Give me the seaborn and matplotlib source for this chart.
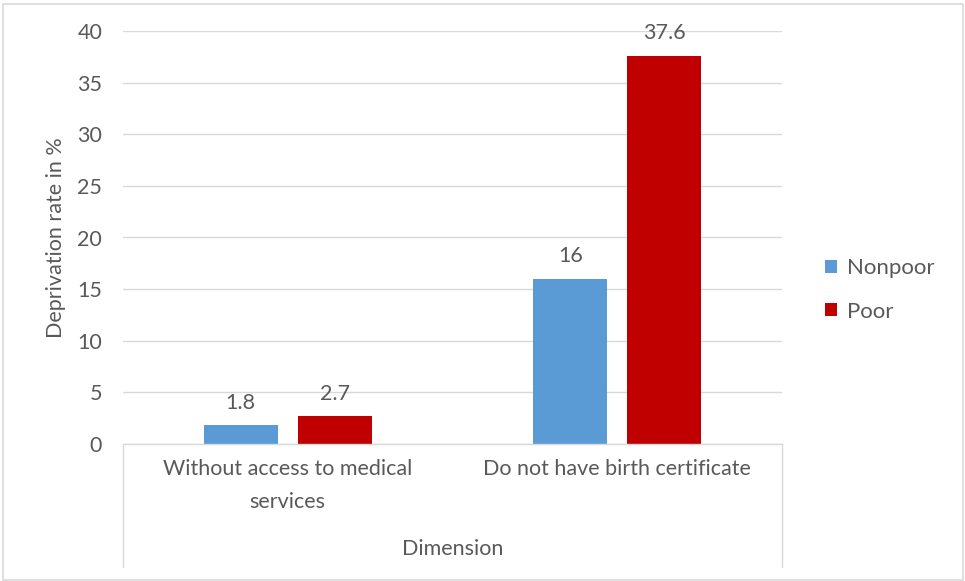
import matplotlib
matplotlib.use("Agg")
import matplotlib.pyplot as plt
from matplotlib.lines import Line2D
from matplotlib.patches import Rectangle, Patch
import pandas as pd
import seaborn as sns

# Data
categories = ["Without access to medical services", "Do not have birth certificate"]
tick_labels = ["Without access to medical\nservices", "Do not have birth certificate"]
groups = ["Nonpoor", "Poor"]
nonpoor = [1.8, 16]
poor = [2.7, 37.6]
y_ticks = [0, 5, 10, 15, 20, 25, 30, 35, 40]
colors = ["#5b9bd5", "#c00000"]

df = pd.DataFrame({
    "Dimension": categories * 2,
    "Group": [groups[0]] * len(categories) + [groups[1]] * len(categories),
    "Rate": nonpoor + poor,
})

sns.set_style("white")
plt.rcParams["font.family"] = ["Lato", "DejaVu Sans"]
text_color = "#595959"
grid_color = "#d9d9d9"
fs = 15.5

fig = plt.figure(figsize=(9.65, 5.81), dpi=100)
W, H = 965, 581
left, right, top, bottom = 123, 782, 31, 444
ax = fig.add_axes([left / W, 1 - bottom / H, (right - left) / W, (bottom - top) / H])

sns.barplot(data=df, x="Dimension", y="Rate", hue="Group", order=categories,
            hue_order=groups, palette=colors, saturation=1, width=0.57, gap=0.21,
            errorbar=None, linewidth=0, ax=ax)

ax.set_ylim(0, 40)
ax.set_xlim(-0.5, 1.5)
ax.set_yticks(y_ticks)
ax.set_yticklabels([str(t) for t in y_ticks], fontsize=fs, color=text_color)
ax.set_xticks(range(len(categories)))
ax.set_xticklabels(tick_labels, fontsize=fs, color=text_color, linespacing=1.8,
                   va="top")
ax.tick_params(axis="y", length=0, pad=15)
ax.tick_params(axis="x", length=0, pad=11)
ax.set_axisbelow(True)
ax.yaxis.grid(True, color=grid_color, lw=1)
for side in ["top", "right", "left"]:
    ax.spines[side].set_visible(False)
ax.spines["bottom"].set_color(grid_color)
ax.spines["bottom"].set_linewidth(1)

ax.set_xlabel("")
ax.set_ylabel("Deprivation rate in %", fontsize=fs, color=text_color, labelpad=8)

for cont in ax.containers:
    ax.bar_label(cont, labels=[f"{v:g}" for v in cont.datavalues],
                 padding=9, fontsize=fs, color=text_color)

if ax.get_legend() is not None:
    ax.get_legend().remove()

handles = [Patch(facecolor=c, edgecolor="none") for c in colors]
fig.legend(handles, groups, loc="center left",
           bbox_to_anchor=(805 / W, 1 - 290 / H), frameon=False,
           fontsize=16, labelcolor=text_color, handlelength=0.55,
           handleheight=0.55, handletextpad=0.45, labelspacing=1.05)

# Category box below the plot area
box_bottom = 567
for x in (left, right):
    fig.add_artist(Line2D([x / W, x / W], [1 - bottom / H, 1 - box_bottom / H],
                          transform=fig.transFigure, color=grid_color, lw=1))
fig.text(453 / W, 1 - 549 / H, "Dimension", ha="center", va="center",
         fontsize=fs, color=text_color)

# Outer chart frame
fig.add_artist(Rectangle((3 / W, 1.5 / H), 960 / W, 576 / H, transform=fig.transFigure,
                         fill=False, edgecolor=grid_color, lw=1.2))

fig.savefig("out.png", dpi=100)
